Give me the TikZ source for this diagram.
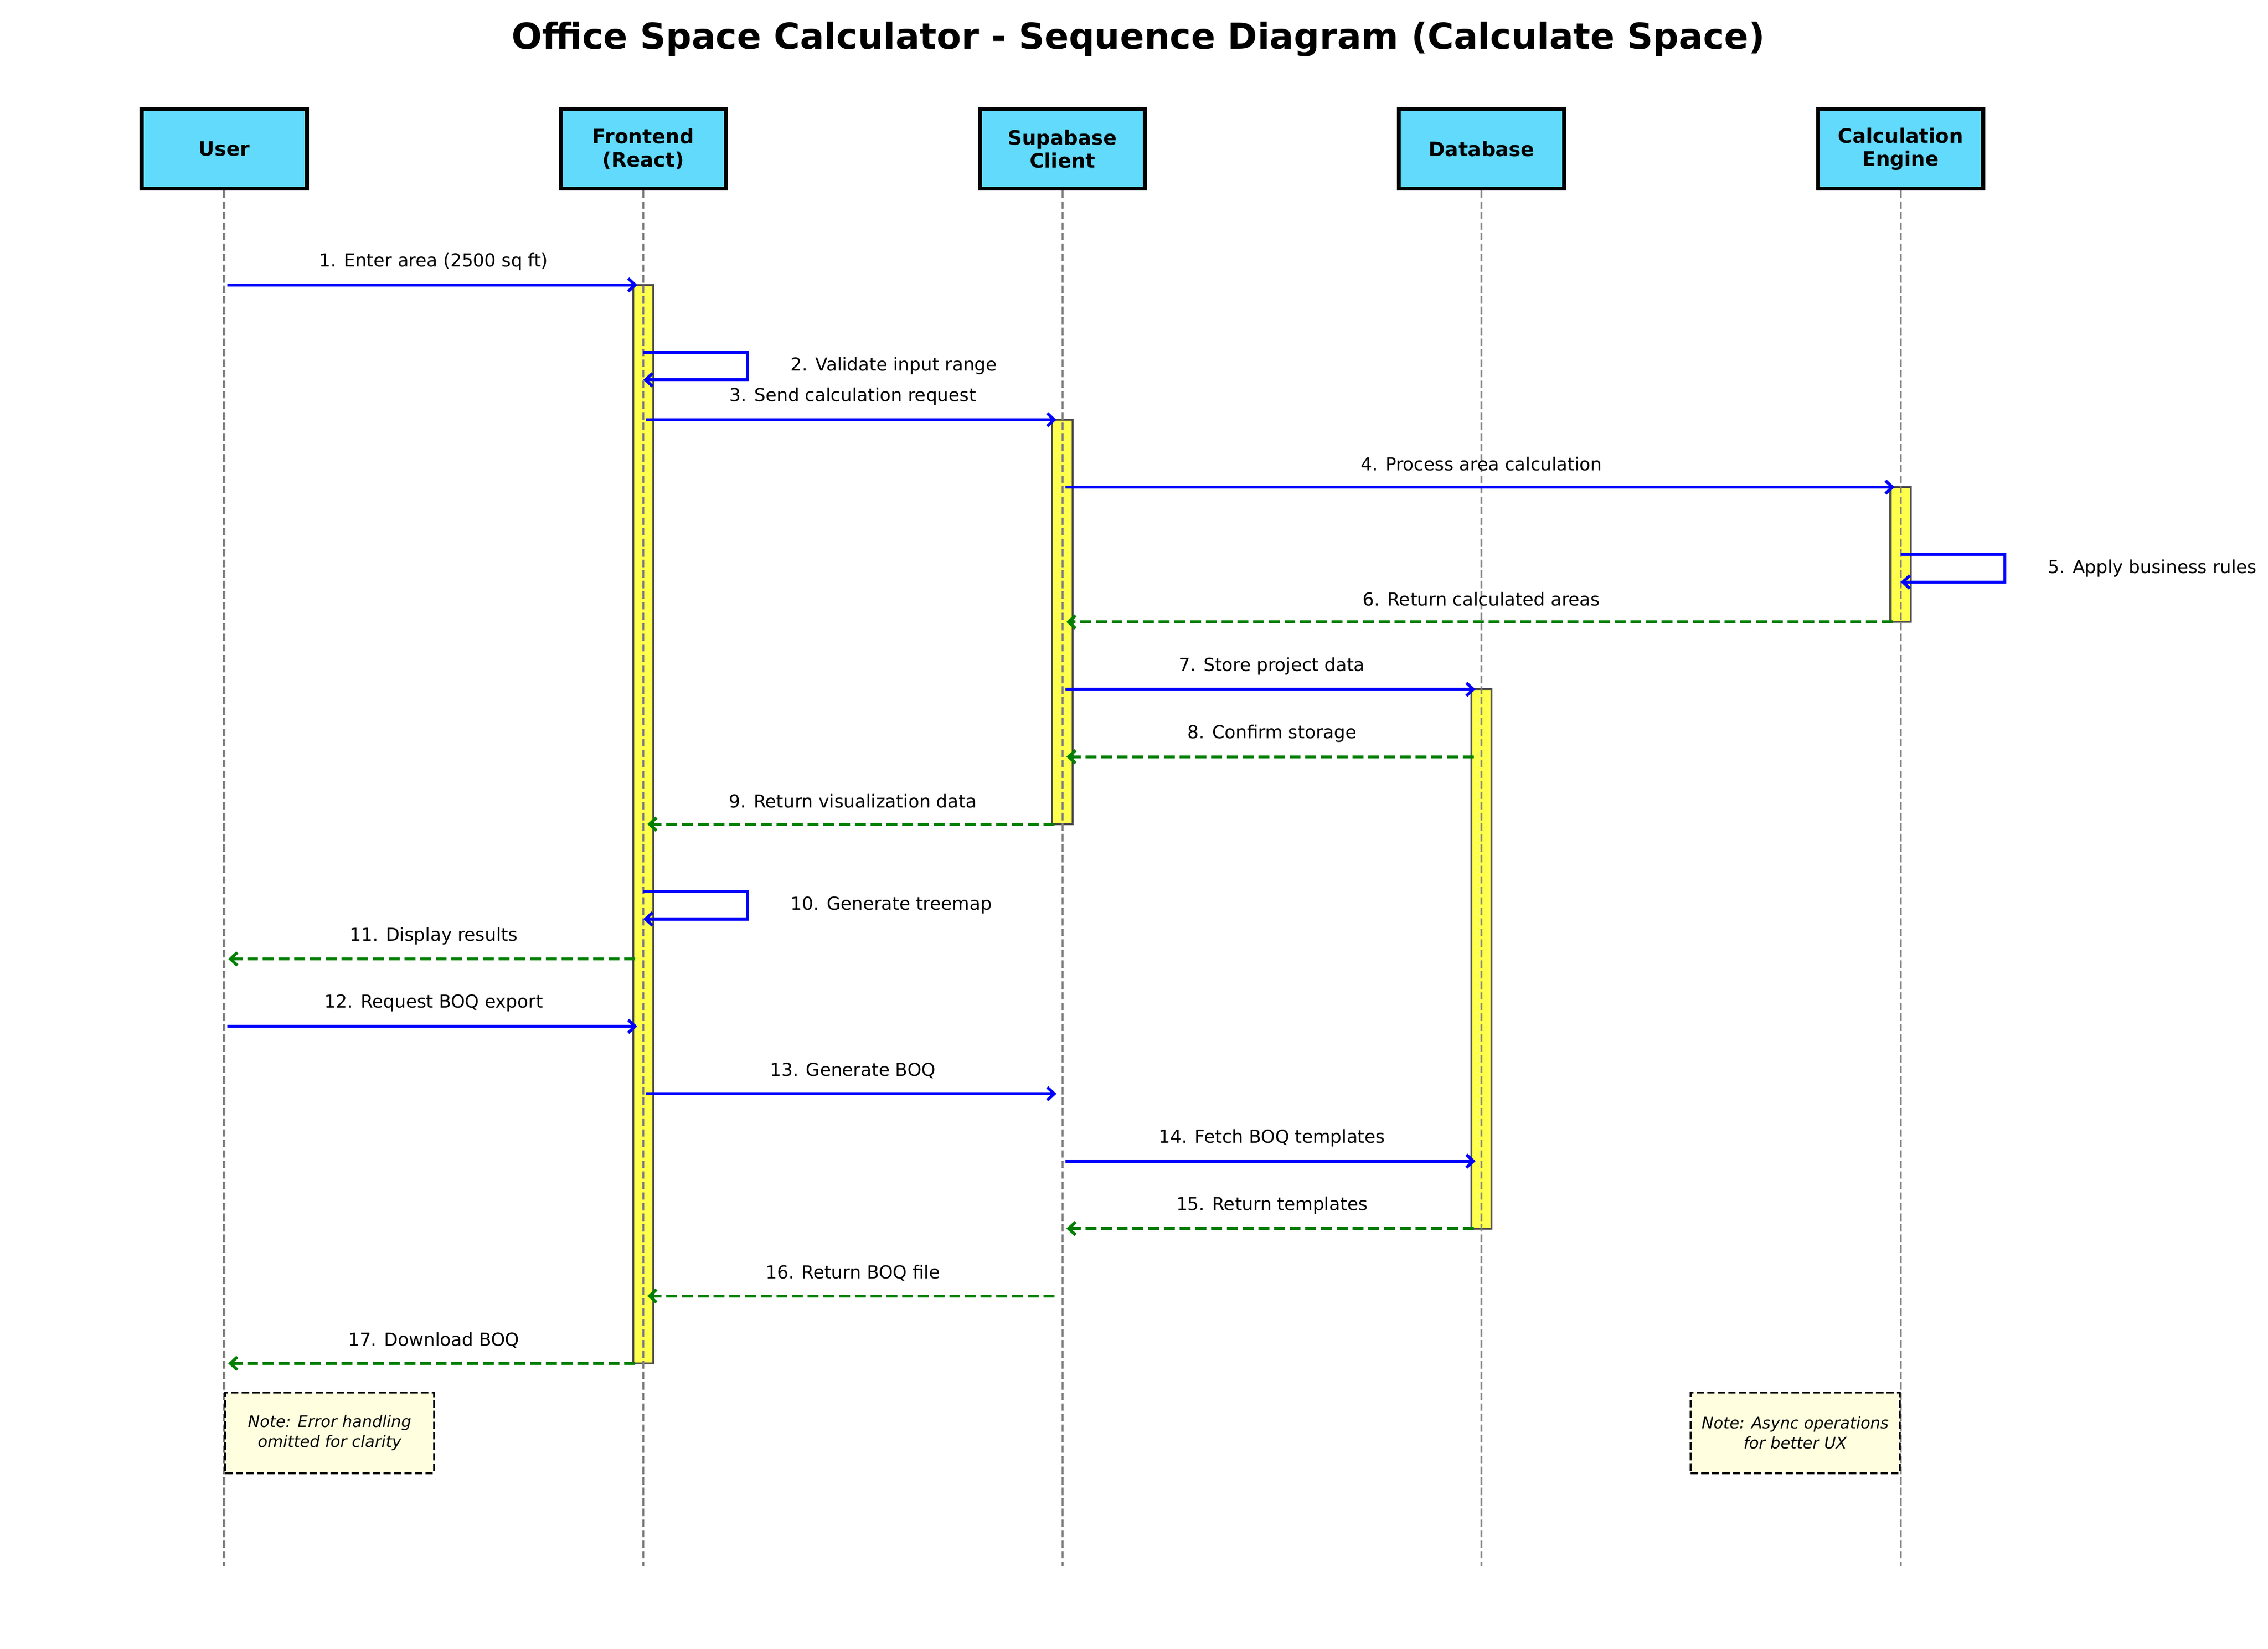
\documentclass[tikz,border=0pt]{standalone}
\usepackage{fontspec}
\setmainfont{DejaVu Sans}
\usepackage{tikz}
\usetikzlibrary{arrows.meta,calc,positioning}

\definecolor{partcyan}{HTML}{61DAFB}
\definecolor{actyellow}{HTML}{FFFF4D}
\definecolor{actedge}{HTML}{4D4D4D}
\definecolor{notefill}{HTML}{FFFFE0}
\definecolor{retgreen}{HTML}{008000}

\tikzset{
	actor/.style={draw=black, line width=2pt, fill=partcyan, minimum width=83pt,
		minimum height=40pt, inner sep=0pt, align=center,
		font=\bfseries\fontsize{10}{11.6}\selectfont},
	lifeline/.style={draw=gray, line width=1pt, dash pattern=on 3.7pt off 1.6pt},
	activ/.style={fill=actyellow, draw=actedge, line width=1pt},
	barb/.style={-{Straight Barb[length=3.5pt,width=6.5pt]}},
	call/.style={draw=blue, line width=1.5pt, barb, shorten <=1.5pt, shorten >=3pt},
	ret/.style={draw=retgreen, line width=1.5pt, barb, dash pattern=on 5.5pt off 2.4pt,
		shorten <=4pt, shorten >=2pt},
	selfcall/.style={draw=blue, line width=1.5pt, barb},
	msg/.style={font=\fontsize{9}{11}\selectfont, inner sep=0pt},
	note/.style={draw=black, fill=notefill, line width=1pt, dash pattern=on 3.7pt off 1.6pt,
		minimum width=105pt, minimum height=40.5pt, inner sep=0pt, align=center,
		font=\itshape\fontsize{8}{10.2}\selectfont}
}

\begin{document}
\begin{tikzpicture}[x=0.727pt, y=-0.727pt]
		\useasboundingbox (0,0) rectangle (1568,1140);
		
		\node[font=\bfseries\fontsize{18}{21}\selectfont] (title) at (787,27)
			{Office Space Calculator - Sequence Diagram (Calculate Space)};
		
		% participants
		\node[actor] (user) at (155,103) {User};
		\node[actor] (fe) at (444.75,103) {Frontend\\(React)};
		\node[actor] (sb) at (734.5,103) {Supabase\\Client};
		\node[actor] (db) at (1024.25,103) {Database};
		\node[actor] (ce) at (1314,103) {Calculation\\Engine};
		
		\coordinate (bottom) at (0,1083);
		\coordinate (notes) at (0,962);
		\foreach \i in {1,...,17}
			\coordinate (m\i) at (0,{197+46.6*(\i-1)});
		
		% activation bars
		\draw[activ] ($(fe |- m1)+(-7,0)$) rectangle ($(fe |- m17)+(7,0)$);
		\draw[activ] ($(sb |- m3)+(-7,0)$) rectangle ($(sb |- m9)+(7,0)$);
		\draw[activ] ($(ce |- m4)+(-7,0)$) rectangle ($(ce |- m6)+(7,0)$);
		\draw[activ] ($(db |- m7)+(-7,0)$) rectangle ($(db |- m15)+(7,0)$);
		
		% lifelines
		\foreach \p in {user,fe,sb,db,ce}
			\draw[lifeline] (\p.south) -- (\p |- bottom);
		
		% messages
		\draw[call] (user |- m1) -- (fe |- m1)
			node[msg, midway, yshift=11.6pt]{1. Enter area (2500 sq ft)};
		\draw[selfcall] (fe |- m2) -- ++(72,0) -- ++(0,19)
			node[msg, midway, right, xshift=21pt]{2. Validate input range} -- ++(-72,0);
		\draw[call] (fe |- m3) -- (sb |- m3)
			node[msg, midway, yshift=11.6pt]{3. Send calculation request};
		\draw[call] (sb |- m4) -- (ce |- m4)
			node[msg, midway, yshift=11.6pt]{4. Process area calculation};
		\draw[selfcall] (ce |- m5) -- ++(72,0) -- ++(0,19)
			node[msg, midway, right, xshift=21pt]{5. Apply business rules} -- ++(-72,0);
		\draw[ret] (ce |- m6) -- (sb |- m6)
			node[msg, midway, yshift=11.6pt]{6. Return calculated areas};
		\draw[call] (sb |- m7) -- (db |- m7)
			node[msg, midway, yshift=11.6pt]{7. Store project data};
		\draw[ret] (db |- m8) -- (sb |- m8)
			node[msg, midway, yshift=11.6pt]{8. Confirm storage};
		\draw[ret] (sb |- m9) -- (fe |- m9)
			node[msg, midway, yshift=11.6pt]{9. Return visualization data};
		\draw[selfcall] (fe |- m10) -- ++(72,0) -- ++(0,19)
			node[msg, midway, right, xshift=21pt]{10. Generate treemap} -- ++(-72,0);
		\draw[ret] (fe |- m11) -- (user |- m11)
			node[msg, midway, yshift=11.6pt]{11. Display results};
		\draw[call] (user |- m12) -- (fe |- m12)
			node[msg, midway, yshift=11.6pt]{12. Request BOQ export};
		\draw[call] (fe |- m13) -- (sb |- m13)
			node[msg, midway, yshift=11.6pt]{13. Generate BOQ};
		\draw[call] (sb |- m14) -- (db |- m14)
			node[msg, midway, yshift=11.6pt]{14. Fetch BOQ templates};
		\draw[ret] (db |- m15) -- (sb |- m15)
			node[msg, midway, yshift=11.6pt]{15. Return templates};
		\draw[ret] (sb |- m16) -- (fe |- m16)
			node[msg, midway, yshift=11.6pt]{16. Return BOQ file};
		\draw[ret] (fe |- m17) -- (user |- m17)
			node[msg, midway, yshift=11.6pt]{17. Download BOQ};
		
		% notes
		\node[note, anchor=north west] (note1) at (user |- notes)
			{Note: Error handling\\omitted for clarity};
		\node[note, anchor=north east] (note2) at (ce |- notes)
			{Note: Async operations\\for better UX};
	\end{tikzpicture}
\end{document}
